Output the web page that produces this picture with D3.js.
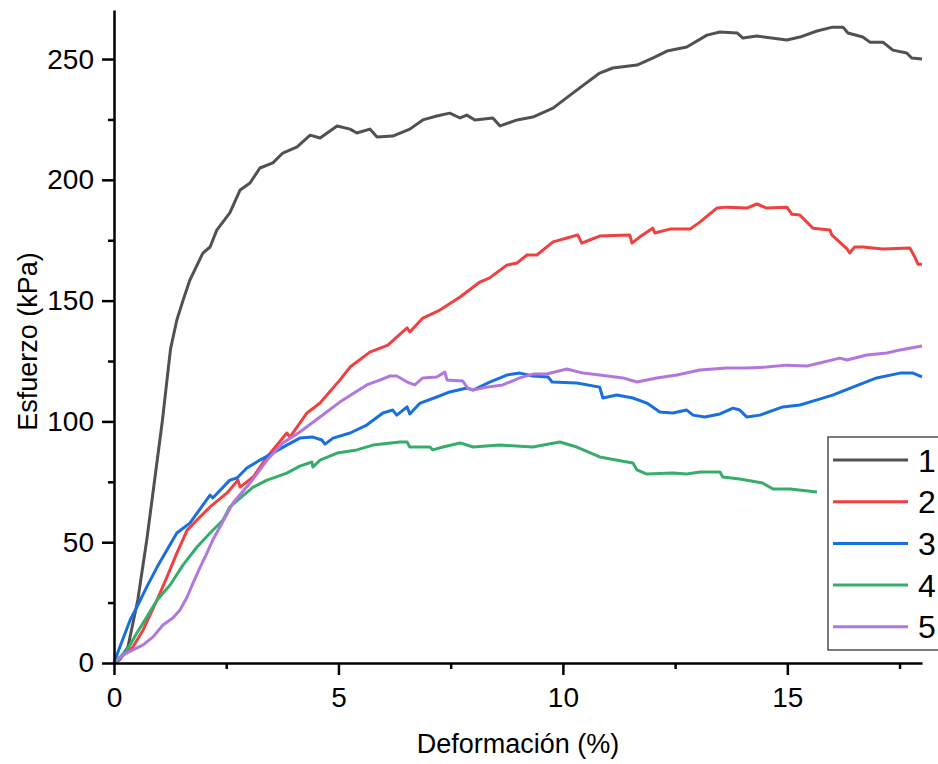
<!DOCTYPE html>
<html>
<head>
<meta charset="utf-8">
<script src="https://cdn.jsdelivr.net/npm/d3@7"></script>
<style>
  body { margin: 0; background: #fff; }
  text { font-family: "Liberation Sans", Arial, sans-serif; fill: #000; }
</style>
</head>
<body>
<div class="chart"></div>
<script>
// curves: [deformacion %, esfuerzo kPa]
const serie1 = [[0,0],[0.13,1.5],[0.31,6.6],[0.53,26.1],[0.73,50.9],[0.9,75],[1.08,100.6],[1.18,117.1],[1.26,130],[1.4,142],[1.54,150.2],[1.69,158.5],[1.98,169.7],[2.14,172.2],[2.29,179.2],[2.58,186.3],[2.81,195.8],[3.03,198.7],[3.25,204.9],[3.54,207],[3.76,211.1],[4.08,213.6],[4.37,218.5],[4.59,217.3],[4.97,222.3],[5.26,221],[5.41,219.4],[5.7,221],[5.86,217.7],[6.21,218.1],[6.59,221],[6.88,224.8],[7.19,226.4],[7.48,227.6],[7.71,225.6],[7.86,226.8],[8.04,224.8],[8.44,225.6],[8.6,222.3],[8.98,224.8],[9.33,226],[9.78,229.7],[10.22,235.9],[10.82,244.2],[11.11,246.3],[11.65,247.5],[12,250.4],[12.32,253.3],[12.76,255],[13.21,259.9],[13.5,261.2],[13.88,260.8],[14.01,258.7],[14.32,259.5],[14.99,257.9],[15.28,259.1],[15.66,261.6],[16.01,263.2],[16.24,263.2],[16.35,260.8],[16.68,259.1],[16.84,257],[17.13,257],[17.35,253.7],[17.66,252.5],[17.77,250.4],[18,250]];
const serie2 = [[0,0],[0.42,6.6],[0.65,13.7],[0.96,26.1],[1.18,35.6],[1.4,45.5],[1.63,55],[1.85,59.2],[2.14,64.6],[2.52,70.4],[2.76,75.7],[2.81,72.8],[3.1,77],[3.41,85.3],[3.85,95.2],[3.92,93.5],[4.3,103.5],[4.59,107.6],[5.03,117.1],[5.26,122.5],[5.7,128.7],[6.1,131.6],[6.53,138.7],[6.59,137],[6.88,142.8],[7.26,146.1],[7.71,151.5],[8.15,157.7],[8.37,159.4],[8.75,164.7],[8.98,165.6],[9.2,168.9],[9.42,168.9],[9.78,174.3],[10.09,175.9],[10.33,177.2],[10.42,173.8],[10.6,175.1],[10.82,176.7],[11.49,177.2],[11.54,173.8],[11.71,176.3],[12,180],[12.05,178],[12.38,179.6],[12.83,179.6],[13.05,182.5],[13.43,188.3],[13.65,188.7],[14.1,188.3],[14.32,190],[14.54,188.3],[14.99,188.7],[15.1,185.8],[15.28,185.4],[15.57,180],[15.95,179.2],[15.99,177.2],[16.33,171.4],[16.39,169.7],[16.5,172.2],[16.68,172.2],[17.13,171.4],[17.73,171.8],[17.84,168],[17.91,165.1],[18,165.1]];
const serie3 = [[0,0],[0.13,6.6],[0.36,17.8],[0.51,23.2],[0.73,31.5],[0.96,39.7],[1.18,46.8],[1.4,53.8],[1.69,57.9],[2.14,69.5],[2.2,68.3],[2.58,75.7],[2.74,76.6],[2.96,80.7],[3.25,84],[3.54,86.9],[3.85,90.2],[4.14,93.1],[4.43,93.5],[4.63,92.3],[4.7,90.6],[4.88,93.1],[5.26,95.2],[5.63,98.5],[5.99,103.5],[6.21,104.7],[6.3,102.6],[6.53,106],[6.59,103.1],[6.82,107.6],[7.19,110.1],[7.48,112.2],[7.86,113.8],[8,113],[8.37,116.3],[8.75,119.2],[9.04,120],[9.33,118.8],[9.67,118.4],[9.76,116.3],[10.31,115.9],[10.82,114.2],[10.89,109.7],[11.2,110.9],[11.56,109.7],[11.87,107.6],[12.16,103.9],[12.45,103.5],[12.76,104.7],[12.9,102.6],[13.16,101.8],[13.5,103.1],[13.79,105.5],[13.94,104.7],[14.1,101.8],[14.39,102.6],[14.9,106],[15.28,106.8],[15.66,108.9],[16.01,110.9],[16.46,114.2],[16.99,118],[17.51,120],[17.8,120],[18,118.4]];
const serie4 = [[0,0],[0.29,5.4],[0.51,12.4],[0.73,19],[0.96,26.1],[1.25,32.3],[1.54,40.6],[1.85,48],[2.14,53.8],[2.43,59.2],[2.58,64.6],[3.1,72.8],[3.41,75.7],[3.85,78.6],[4.14,81.5],[4.41,83.2],[4.43,81.1],[4.59,84],[4.97,86.9],[5.41,88.2],[5.77,90.2],[6.37,91.5],[6.53,91.5],[6.59,89.4],[7.04,89.4],[7.1,88.2],[7.33,89.4],[7.71,91.1],[8,89.4],[8.6,90.2],[9.33,89.4],[9.93,91.5],[10.31,89.4],[10.82,85.3],[11.43,83.2],[11.56,82.8],[11.65,79.9],[11.87,78.2],[12.45,78.6],[12.76,78.2],[13.05,79.1],[13.5,79.1],[13.56,77],[13.94,76.2],[14.45,74.5],[14.68,72],[15.06,72],[15.66,70.8]];
const serie5 = [[0,0],[0.2,3.3],[0.42,5.4],[0.65,7.5],[0.87,10.8],[1.09,15.7],[1.31,18.6],[1.47,21.9],[1.63,27.3],[1.76,33.1],[1.92,39.7],[2.07,45.5],[2.2,50.9],[2.36,56.3],[2.65,66.2],[3.03,74.5],[3.41,84],[3.76,91.1],[4.14,95.6],[4.59,101.8],[5.03,108],[5.63,115.1],[5.92,117.1],[6.15,118.8],[6.3,118.8],[6.53,116.3],[6.7,115.1],[6.88,118],[7.19,118.4],[7.37,120.4],[7.42,117.1],[7.77,116.7],[7.88,113.8],[8,113],[8.31,114.2],[8.66,115.1],[9.04,118],[9.33,119.6],[9.64,119.6],[10.09,121.7],[10.45,120],[10.82,119.2],[11.34,118],[11.65,116.3],[12.09,118],[12.54,119.2],[13.05,121.3],[13.65,122.1],[14.1,122.1],[14.54,122.5],[14.99,123.3],[15.43,122.9],[15.72,124.2],[16.17,126.2],[16.33,125.4],[16.77,127.5],[17.22,128.3],[17.51,129.6],[18,131.2]];

const nombres = ["1", "2", "3", "4", "5"];
const colores = ["#515151", "#F14040", "#1A6FDF", "#37AD6B", "#B177DE"];
const xTicks = [0, 5, 10, 15];
const yTicks = [0, 50, 100, 150, 200, 250];

const series = [serie1, serie2, serie3, serie4, serie5];

const width = 938, height = 764;
const margin = {top: 10, right: 16, bottom: 101, left: 114};

const svg = d3.select(".chart").append("svg")
    .attr("width", width)
    .attr("height", height);

const x = d3.scaleLinear().domain([0, 18]).range([margin.left, width - margin.right]);
const y = d3.scaleLinear().domain([0, 270.3]).range([height - margin.bottom, margin.top]);

const line = d3.line()
    .x(d => x(d[0]))
    .y(d => y(d[1]));

// curves
series.forEach(function(s, i) {
    svg.append("path")
        .datum(s)
        .attr("fill", "none")
        .attr("stroke", colores[i])
        .attr("stroke-width", 3)
        .attr("stroke-linejoin", "round")
        .attr("d", line);
});

// minor ticks first, then main axes on top
svg.append("g")
    .attr("transform", "translate(0," + y(0) + ")")
    .call(d3.axisBottom(x).tickValues([2.5, 7.5, 12.5, 17.5]).tickSize(6).tickSizeOuter(0).tickFormat(""))
    .call(g => g.select(".domain").remove());

svg.append("g")
    .attr("transform", "translate(" + x(0) + ",0)")
    .call(d3.axisLeft(y).tickValues([25, 75, 125, 175, 225]).tickSize(6).tickSizeOuter(0).tickFormat(""))
    .call(g => g.select(".domain").remove());

const xAxis = svg.append("g")
    .attr("transform", "translate(0," + y(0) + ")")
    .call(d3.axisBottom(x).tickValues(xTicks).tickSize(12).tickSizeOuter(0).tickPadding(12));

const yAxis = svg.append("g")
    .attr("transform", "translate(" + x(0) + ",0)")
    .call(d3.axisLeft(y).tickValues(yTicks).tickSize(12).tickSizeOuter(0).tickPadding(8));

svg.selectAll(".domain, .tick line")
    .attr("stroke", "#000")
    .attr("stroke-width", 2.5);

svg.selectAll(".tick text")
    .attr("font-family", "Liberation Sans, Arial, sans-serif")
    .attr("font-size", 28)
    .attr("fill", "#000");

// axis titles
svg.append("text")
    .attr("x", (x(0) + x(18)) / 2)
    .attr("y", 753)
    .attr("text-anchor", "middle")
    .attr("font-size", 27)
    .text("Deformación (%)");

svg.append("text")
    .attr("transform", "translate(37," + ((y(0) + y(270.3)) / 2 + 5) + ") rotate(-90)")
    .attr("text-anchor", "middle")
    .attr("font-size", 27)
    .text("Esfuerzo (kPa)");

// legend
const leg = svg.append("g").attr("transform", "translate(828,437)");
leg.append("rect")
    .attr("width", 130)
    .attr("height", 213)
    .attr("fill", "#fff")
    .attr("stroke", "#333")
    .attr("stroke-width", 1.3);

nombres.forEach(function(n, i) {
    const yy = 23 + 41.7 * i;
    leg.append("line")
        .attr("x1", 5).attr("x2", 80)
        .attr("y1", yy).attr("y2", yy)
        .attr("stroke", colores[i])
        .attr("stroke-width", 3);
    leg.append("text")
        .attr("x", 90)
        .attr("y", yy + 11.5)
        .attr("font-size", 32)
        .text(n);
});
</script>
</body>
</html>
